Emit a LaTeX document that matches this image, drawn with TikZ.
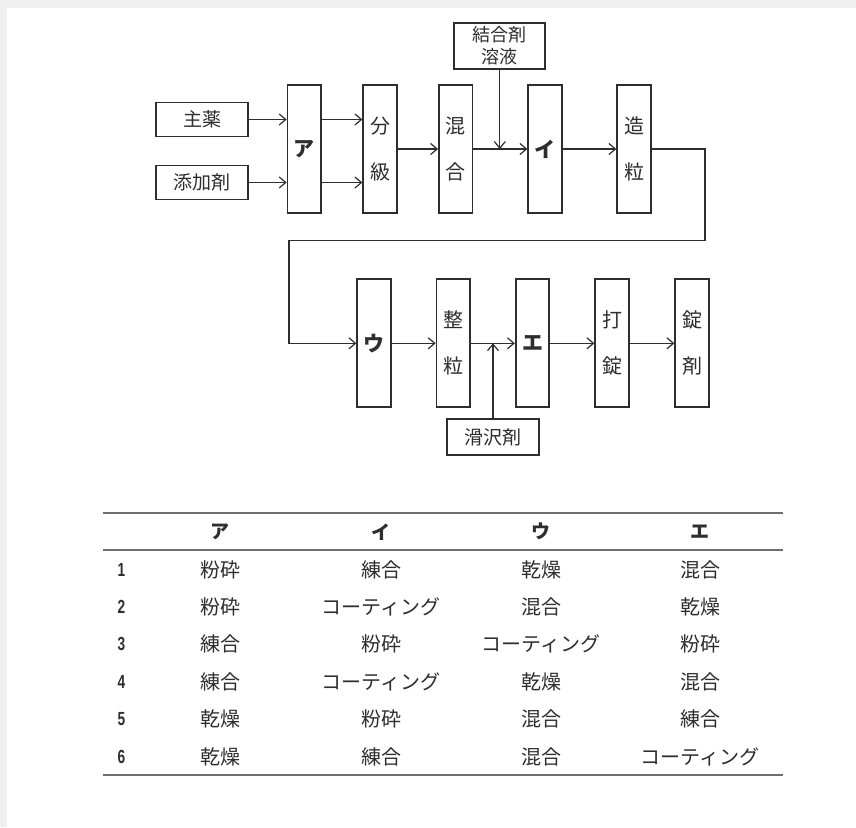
\documentclass[tikz,border=0pt]{standalone}
\usepackage{fontspec}
\usetikzlibrary{arrows.meta}
\newfontfamily\jp{Noto Sans CJK JP}
\newfontfamily\numfont[FakeStretch=0.72]{Liberation Sans}
\definecolor{ink}{HTML}{2E2E2E}
\definecolor{rulec}{HTML}{6E6E6E}
\definecolor{pagebg}{HTML}{EFEFEF}
\tikzset{
  box/.style={draw=ink, line width=1.8pt, inner sep=0pt, text=ink},
  hbox/.style={box, minimum width=92pt, minimum height=34pt, font=\jp\fontsize{19}{22}\selectfont},
  vbox/.style={box, minimum width=33.5pt, minimum height=128pt, align=center, font=\jp\fontsize{20}{46}\selectfont},
  kbox/.style={vbox, font=\jp\bfseries\fontsize{21}{24}\selectfont},
  flow/.style={draw=ink, line width=1.2pt, -{Straight Barb[length=6.5pt,width=11pt,line width=1.2pt]}},
  tabrule/.style={draw=rulec, line width=1.7pt},
  cell/.style={text=ink, inner sep=0pt, font=\jp\fontsize{20}{22}\selectfont},
  head/.style={text=ink, inner sep=0pt, font=\jp\bfseries\fontsize{19}{22}\selectfont},
  num/.style={text=ink, inner sep=0pt, font=\numfont\bfseries\fontsize{19}{20}\selectfont}
}
\begin{document}
\begin{tikzpicture}[x=1pt,y=-1pt]
\useasboundingbox (0,0) rectangle (856,827);
\fill[pagebg] (0,0) rectangle (856,827);
\fill[white] (7,8) rectangle (856,827);

% upper row
\node[hbox] (shu) at (202,119.5) {主薬};
\node[hbox] (ten) at (202,182.5) {添加剤};
\node[kbox] (A) at (304.3,149) {ア};
\node[vbox] (bun) at (380,149) {分\\級};
\node[vbox] (kon) at (455.7,149) {混\\合};
\node[box, minimum width=91pt, minimum height=46.5pt, align=center, font=\jp\fontsize{18}{22}\selectfont] (bind) at (499.8,46) {結合剤\\溶液};
\node[kbox] (I) at (545,149) {イ};
\node[vbox] (zo) at (634,149) {造\\粒};

% lower row
\node[kbox] (U) at (374,343.3) {ウ};
\node[vbox] (sei) at (453.3,343.3) {整\\粒};
\node[kbox] (E) at (532.5,343.3) {エ};
\node[vbox] (da) at (612,343.3) {打\\錠};
\node[vbox] (jo) at (692,343.3) {錠\\剤};
\node[hbox, minimum width=91.5pt, minimum height=36pt] (lub) at (493,437) {滑沢剤};

\coordinate (t1) at (705,240.7);
\coordinate (t2) at (289,240.7);

% connectors
\draw[flow] (shu.east) -- (shu.east -| A.west);
\draw[flow] (ten.east) -- (ten.east -| A.west);
\draw[flow] (A.east |- shu.east) -- (bun.west |- shu.east);
\draw[flow] (A.east |- ten.east) -- (bun.west |- ten.east);
\draw[flow] (bun) -- (kon);
\draw[flow] (kon) -- (I);
\draw[flow] (bind.south) -- (bind.south |- I.west);
\draw[flow] (I) -- (zo);
\draw[flow] (zo.east) -| (t1) -- (t2) |- (U.west);
\draw[flow] (U) -- (sei);
\draw[flow] (sei) -- (E);
\draw[flow] (E) -- (da);
\draw[flow] (da) -- (jo);
\draw[flow] (lub.north) -- (lub.north |- E.west);

% table
\coordinate (rl1) at (102.7,512.7);
\coordinate (rr1) at (782.7,512.7);
\coordinate (rl2) at (102.7,550);
\coordinate (rr2) at (782.7,550);
\coordinate (rl3) at (102.7,775);
\coordinate (rr3) at (782.7,775);
\draw[tabrule] (rl1) -- (rr1);
\draw[tabrule] (rl2) -- (rr2);
\draw[tabrule] (rl3) -- (rr3);

\node[head] (hA) at (220,531.7) {ア};
\node[head] (hI) at (381,531.7) {イ};
\node[head] (hU) at (541,531.7) {ウ};
\node[head] (hE) at (700,531.7) {エ};

\node[num] (n1) at (121.5,570) {1};
\node[cell] (c1a) at (220,570) {粉砕};
\node[cell] (c1b) at (381,570) {練合};
\node[cell] (c1c) at (541,570) {乾燥};
\node[cell] (c1d) at (700,570) {混合};

\node[num] (n2) at (121.5,607) {2};
\node[cell] (c2a) at (220,607) {粉砕};
\node[cell] (c2b) at (381,607) {コーティング};
\node[cell] (c2c) at (541,607) {混合};
\node[cell] (c2d) at (700,607) {乾燥};

\node[num] (n3) at (121.5,644.3) {3};
\node[cell] (c3a) at (220,644.3) {練合};
\node[cell] (c3b) at (381,644.3) {粉砕};
\node[cell] (c3c) at (541,644.3) {コーティング};
\node[cell] (c3d) at (700,644.3) {粉砕};

\node[num] (n4) at (121.5,681.7) {4};
\node[cell] (c4a) at (220,681.7) {練合};
\node[cell] (c4b) at (381,681.7) {コーティング};
\node[cell] (c4c) at (541,681.7) {乾燥};
\node[cell] (c4d) at (700,681.7) {混合};

\node[num] (n5) at (121.5,719) {5};
\node[cell] (c5a) at (220,719) {乾燥};
\node[cell] (c5b) at (381,719) {粉砕};
\node[cell] (c5c) at (541,719) {混合};
\node[cell] (c5d) at (700,719) {練合};

\node[num] (n6) at (121.5,756.7) {6};
\node[cell] (c6a) at (220,756.7) {乾燥};
\node[cell] (c6b) at (381,756.7) {練合};
\node[cell] (c6c) at (541,756.7) {混合};
\node[cell] (c6d) at (700,756.7) {コーティング};
\end{tikzpicture}
\end{document}
